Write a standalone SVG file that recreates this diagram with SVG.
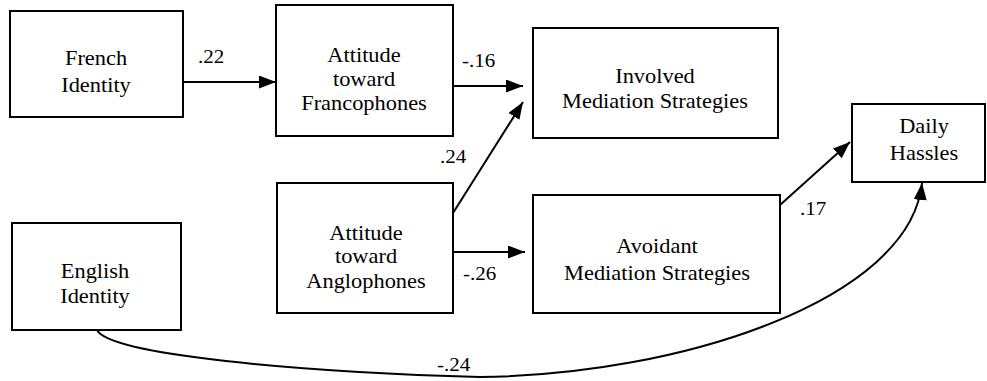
<svg xmlns="http://www.w3.org/2000/svg" width="987" height="381" viewBox="0 0 987 381">
<style>
.box{fill:#fff;stroke:#000;stroke-width:2}
.t{font-size:20px;fill:#000;text-anchor:middle}
.l{font-size:18px;fill:#000}
.c{fill:none;stroke:#000;stroke-width:2}
</style>
<defs>
<marker id="ah" markerUnits="userSpaceOnUse" markerWidth="18" markerHeight="14" refX="17" refY="6.5" orient="auto">
<path d="M0,0 L17,6.5 L0,13 z" fill="#000"/>
</marker>
</defs>
<rect width="987" height="381" fill="#fff"/>
<g font-family="Liberation Serif, DejaVu Serif, serif">
<g id="french">
<rect class="box" x="10" y="11" width="173" height="106"/>
<text class="t" transform="translate(96,65) scale(1.12,1)">French</text>
<text class="t" transform="translate(96,92) scale(1.12,1)">Identity</text>
</g>
<g id="francophones">
<rect class="box" x="276" y="5" width="177" height="131"/>
<text class="t" transform="translate(364,62) scale(1.12,1)">Attitude</text>
<text class="t" transform="translate(364,86) scale(1.12,1)">toward</text>
<text class="t" transform="translate(364,110) scale(1.12,1)">Francophones</text>
</g>
<g id="involved">
<rect class="box" x="533" y="28" width="245" height="110"/>
<text class="t" transform="translate(655,83) scale(1.12,1)">Involved</text>
<text class="t" transform="translate(655,108) scale(1.12,1)">Mediation Strategies</text>
</g>
<g id="hassles">
<rect class="box" x="852" y="104" width="133" height="78"/>
<text class="t" transform="translate(924,133) scale(1.12,1)">Daily</text>
<text class="t" transform="translate(924,160) scale(1.12,1)">Hassles</text>
</g>
<g id="english">
<rect class="box" x="12" y="223" width="169" height="107"/>
<text class="t" transform="translate(95,278) scale(1.12,1)">English</text>
<text class="t" transform="translate(95,303) scale(1.12,1)">Identity</text>
</g>
<g id="anglophones">
<rect class="box" x="277" y="183" width="176" height="130"/>
<text class="t" transform="translate(366,240) scale(1.12,1)">Attitude</text>
<text class="t" transform="translate(366,263) scale(1.12,1)">toward</text>
<text class="t" transform="translate(366,288) scale(1.12,1)">Anglophones</text>
</g>
<g id="avoidant">
<rect class="box" x="533" y="195" width="247" height="118"/>
<text class="t" transform="translate(657,253) scale(1.12,1)">Avoidant</text>
<text class="t" transform="translate(657,280) scale(1.12,1)">Mediation Strategies</text>
</g>
<g id="connectors">
<line class="c" x1="183" y1="82" x2="276" y2="82" marker-end="url(#ah)"/>
<line class="c" x1="453" y1="86" x2="523" y2="86" marker-end="url(#ah)"/>
<line class="c" x1="453" y1="213" x2="523" y2="102" marker-end="url(#ah)"/>
<line class="c" x1="453" y1="252" x2="525" y2="252" marker-end="url(#ah)"/>
<line class="c" x1="780" y1="205" x2="850" y2="142" marker-end="url(#ah)"/>
<path class="c" d="M97,330 C110,355 300,372 480,377 C680,375 910,300 922,183" marker-end="url(#ah)"/>
<text class="l" transform="translate(198,63) scale(1.17,1)">.22</text>
<text class="l" transform="translate(462,67) scale(1.17,1)">-.16</text>
<text class="l" transform="translate(440,163) scale(1.17,1)">.24</text>
<text class="l" transform="translate(463,280) scale(1.17,1)">-.26</text>
<text class="l" transform="translate(800,215) scale(1.17,1)">.17</text>
<text class="l" transform="translate(437,371) scale(1.17,1)">-.24</text>
</g>
</g>
</svg>
